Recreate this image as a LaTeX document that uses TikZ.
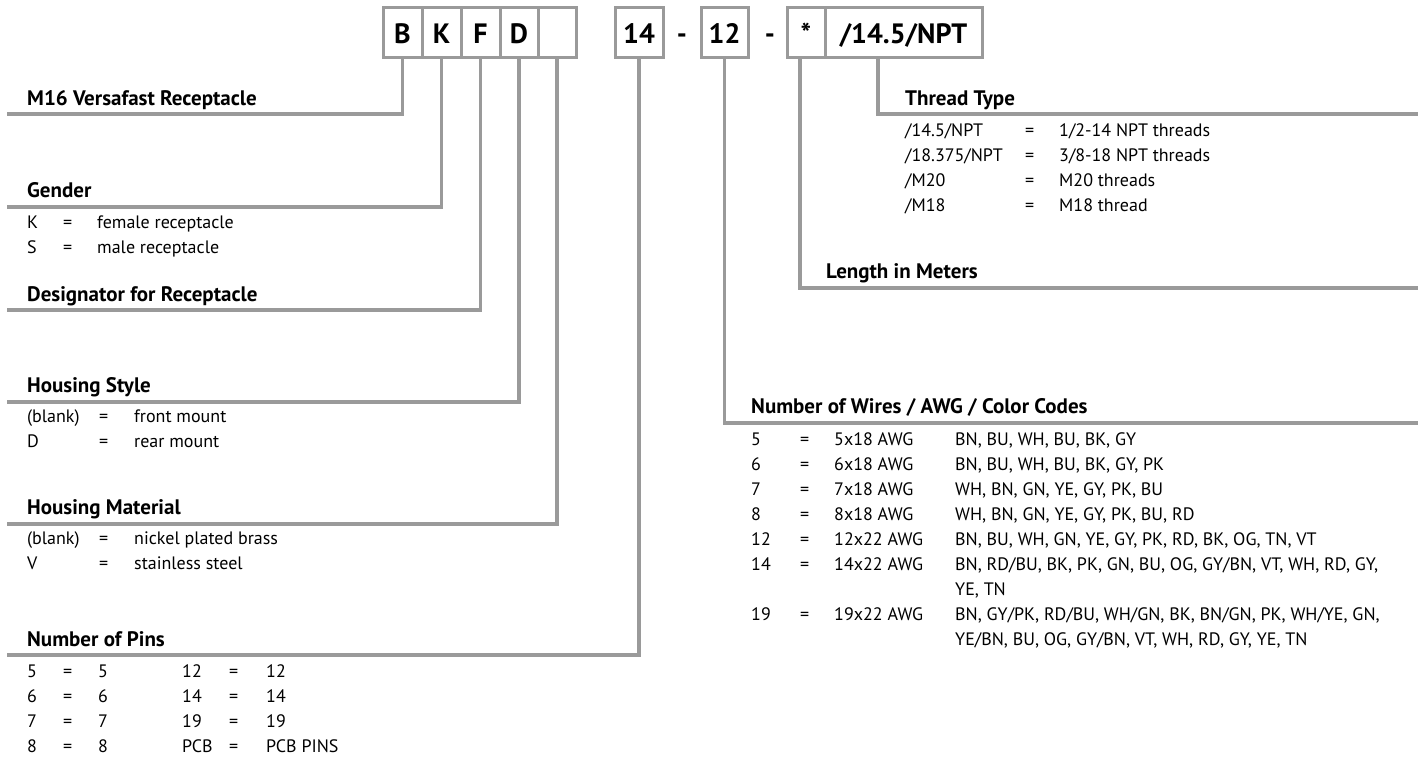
\documentclass[tikz,border=0pt]{standalone}
\usepackage{fontspec}
\setmainfont{PT Sans}
\usetikzlibrary{positioning}
\definecolor{cline}{HTML}{9A9A9A}
\tikzset{
  lead/.style={draw=cline, line width=3.5pt},
  codebox/.style={draw=cline, line width=3pt, minimum height=50pt, inner sep=0pt,
    text height=23pt, text depth=0pt, font=\fontsize{28}{32}\selectfont\bfseries},
  head/.style={anchor=base west, inner sep=0pt, font=\fontsize{21}{24}\selectfont\bfseries},
  cell/.style={anchor=base west, inner sep=0pt, font=\fontsize{18}{21}\selectfont}
}

\begin{document}
\begin{tikzpicture}[x=1pt,y=-1pt]
\useasboundingbox (0,0) rectangle (1422,758);
% ordering code boxes
\node[codebox, minimum width=39pt] (bB) at (402.5,32) {B};
\node[codebox, minimum width=39pt] (bK) at (441.5,32) {K};
\node[codebox, minimum width=39pt] (bF) at (480.5,32) {F};
\node[codebox, minimum width=38pt] (bD) at (519,32) {D};
\node[codebox, minimum width=38pt] (bblank) at (557,32) {};
\node[codebox, minimum width=48pt] (b14) at (639,32) {14};
\node[codebox, draw=none] (dashA) at (682,32) {-};
\node[codebox, minimum width=47pt] (b12) at (724.5,32) {12};
\node[codebox, draw=none] (dashB) at (770,32) {-};
\node[codebox, minimum width=38pt] (bstar) at (806,32) {*};
\node[codebox, minimum width=157pt] (bthread) at (903.5,32) {/14.5/NPT};

% line ends
\coordinate (eM16) at (7,114);
\coordinate (eGender) at (7,207);
\coordinate (eDesig) at (7,310);
\coordinate (eStyle) at (7,402);
\coordinate (eMat) at (7,524);
\coordinate (ePins) at (7,655);
\coordinate (eThread) at (1418,114);
\coordinate (eLength) at (1418,288);
\coordinate (eWires) at (1418,423);

\draw[lead] (bB.south) |- (eM16);
\draw[lead] (bK.south) |- (eGender);
\draw[lead] (bF.south) |- (eDesig);
\draw[lead] (bD.south) |- (eStyle);
\draw[lead] (bblank.south) |- (eMat);
\draw[lead] (b14.south) |- (ePins);
\draw[lead] (b12.south) |- (eWires);
\draw[lead] ([xshift=-6pt]bstar.south) |- (eLength);
\draw[lead] ([xshift=-25.5pt]bthread.south) |- (eThread);

% left side
\node[head] (hM16) at (27,105) {M16 Versafast Receptacle};
\node[head] (hGender) at (27,197) {Gender};
\node[cell] (gK) at (27,228) {K};
\node[cell] (gKe) at (63,228) {=};
\node[cell] (gKv) at (97,228) {female receptacle};
\node[cell] (gS) at (27,253) {S};
\node[cell] (gSe) at (63,253) {=};
\node[cell] (gSv) at (97,253) {male receptacle};
\node[head] (hDesig) at (27,301) {Designator for Receptacle};
\node[head] (hStyle) at (27,392) {Housing Style};
\node[cell] (sA) at (27,422) {(blank)};
\node[cell] (sAe) at (99,422) {=};
\node[cell] (sAv) at (134,422) {front mount};
\node[cell] (sD) at (27,447) {D};
\node[cell] (sDe) at (99,447) {=};
\node[cell] (sDv) at (134,447) {rear mount};
\node[head] (hMat) at (27,514) {Housing Material};
\node[cell] (mA) at (27,544) {(blank)};
\node[cell] (mAe) at (99,544) {=};
\node[cell] (mAv) at (134,544) {nickel plated brass};
\node[cell] (mV) at (27,569) {V};
\node[cell] (mVe) at (99,569) {=};
\node[cell] (mVv) at (134,569) {stainless steel};
\node[head] (hPins) at (27,646) {Number of Pins};
\foreach \k/\v [count=\i] in {5/12,6/14,7/19,8/PCB} {
  \node[cell] (pk\i) at (27,{652+25*\i}) {\k};
  \node[cell] (pe\i) at (63,{652+25*\i}) {=};
  \node[cell] (pv\i) at (98,{652+25*\i}) {\k};
  \node[cell] (qk\i) at (182,{652+25*\i}) {\v};
  \node[cell] (qe\i) at (229,{652+25*\i}) {=};
}
\node[cell] (qv1) at (266,677) {12};
\node[cell] (qv2) at (266,702) {14};
\node[cell] (qv3) at (266,727) {19};
\node[cell] (qv4) at (266,752) {PCB PINS};

% right side
\node[head] (hThread) at (905,105) {Thread Type};
\node[cell] (tA) at (905,136) {/14.5/NPT};
\node[cell] (tAe) at (1025,136) {=};
\node[cell] (tAv) at (1059,136) {1/2-14 NPT threads};
\node[cell] (tB) at (905,161) {/18.375/NPT};
\node[cell] (tBe) at (1025,161) {=};
\node[cell] (tBv) at (1059,161) {3/8-18 NPT threads};
\node[cell] (tC) at (905,186) {/M20};
\node[cell] (tCe) at (1025,186) {=};
\node[cell] (tCv) at (1059,186) {M20 threads};
\node[cell] (tD) at (905,211) {/M18};
\node[cell] (tDe) at (1025,211) {=};
\node[cell] (tDv) at (1059,211) {M18 thread};
\node[head] (hLength) at (826,278) {Length in Meters};
\node[head] (hWires) at (751,413) {Number of Wires / AWG / Color Codes};
\foreach \k [count=\i] in {5,6,7,8,12,14} {
  \node[cell] (wk\i) at (751,{420+25*\i}) {\k};
  \node[cell] (we\i) at (800,{420+25*\i}) {=};
  \node[cell] (ws\i) at (834,{420+25*\i}) {\k x\ifnum\i<5 18\else 22\fi\ AWG};
}
\node[cell] (wk7) at (751,620) {19};
\node[cell] (we7) at (800,620) {=};
\node[cell] (ws7) at (834,620) {19x22 AWG};
\node[cell] (wc1) at (955,445) {BN, BU, WH, BU, BK, GY};
\node[cell] (wc2) at (955,470) {BN, BU, WH, BU, BK, GY, PK};
\node[cell] (wc3) at (955,495) {WH, BN, GN, YE, GY, PK, BU};
\node[cell] (wc4) at (955,520) {WH, BN, GN, YE, GY, PK, BU, RD};
\node[cell] (wc5) at (955,545) {BN, BU, WH, GN, YE, GY, PK, RD, BK, OG, TN, VT};
\node[cell] (wc6) at (955,570) {BN, RD/BU, BK, PK, GN, BU, OG, GY/BN, VT, WH, RD, GY,};
\node[cell] (wc6b) at (955,595) {YE, TN};
\node[cell] (wc7) at (955,620) {BN, GY/PK, RD/BU, WH/GN, BK, BN/GN, PK, WH/YE, GN,};
\node[cell] (wc7b) at (955,645) {YE/BN, BU, OG, GY/BN, VT, WH, RD, GY, YE, TN};
\end{tikzpicture}
\end{document}
